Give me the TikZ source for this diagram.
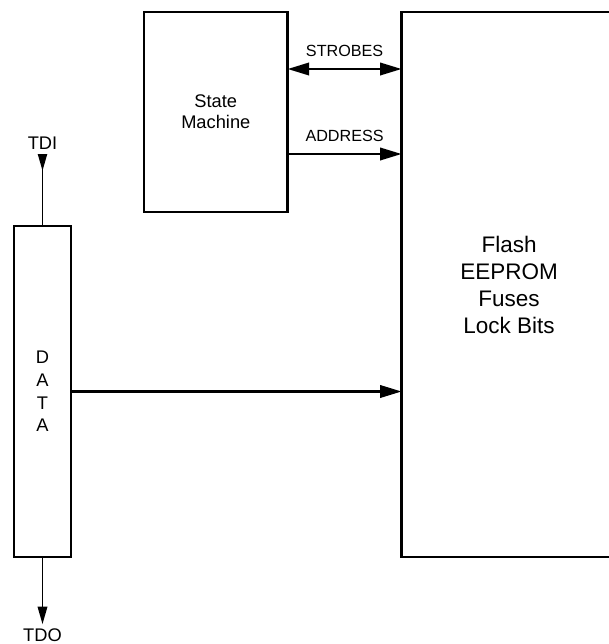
\documentclass[tikz,border=0pt]{standalone}
\usepackage{fontspec}
\setmainfont{Liberation Sans}
\usetikzlibrary{arrows.meta, positioning, calc}

\begin{document}
\begin{tikzpicture}[
    block/.style={
        draw, line width=1.9pt, outer sep=0pt, align=center,
        font=\fontsize{13}{15}\selectfont
    },
    bus/.style={line width=1.8pt},
    busarr/.style={-{Triangle[length=5.4mm, width=3.1mm]}, bus},
    dblarr/.style={{Triangle[length=5.4mm, width=3.1mm]}-{Triangle[length=5.4mm, width=3.1mm]}, bus},
    pin/.style={line width=1.1pt},
    pinarr/.style={-{Triangle[length=4.4mm, width=2.4mm]}, pin},
    lbl/.style={font=\fontsize{11.5}{13}\selectfont, inner sep=0pt},
    pinlbl/.style={font=\fontsize{13}{15}\selectfont}
]
\useasboundingbox (0,0) rectangle (15.2,-16.1);

% =============================================
% TOP: State Machine -> memory block
% =============================================
\node[block, minimum width=3.59cm, minimum height=5.0cm, anchor=north west] (fsm) at (3.6,-0.3) {State\\Machine};
\node[block, minimum width=5.375cm, minimum height=13.625cm,
      right=2.85cm of fsm.north east, anchor=north west,
      font=\fontsize{16}{19.2}\selectfont] (mem) {Flash\\EEPROM\\Fuses\\Lock Bits};

\coordinate (strobe) at ([yshift=-1.425cm]fsm.north east);
\coordinate (addr) at ([yshift=-3.55cm]fsm.north east);

\draw[dblarr] (strobe) -- (strobe -| mem.west)
    node[lbl, midway, above=0.28cm] {STROBES};
\draw[busarr] (addr) -- (addr -| mem.west)
    node[lbl, midway, above=0.28cm] {ADDRESS};

% =============================================
% LEFT: data register with TDI / TDO
% =============================================
\node[block, minimum width=1.425cm, minimum height=8.275cm, anchor=south west,
      font=\fontsize{13}{16.2}\selectfont] (data) at (0.35,-13.925) {D\\A\\T\\A};

\node[pinlbl, above=1.8cm of data] (tdi) {TDI};
\node[pinlbl, below=1.68cm of data] (tdo) {TDO};

\draw[pin, {Triangle[reversed, length=4.2mm, width=2.3mm]}-] (tdi) -- (data);
\draw[pinarr] (data) -- (tdo);

% data register -> memory block
\draw[busarr] (data) -- (data -| mem.west);

\end{tikzpicture}
\end{document}
